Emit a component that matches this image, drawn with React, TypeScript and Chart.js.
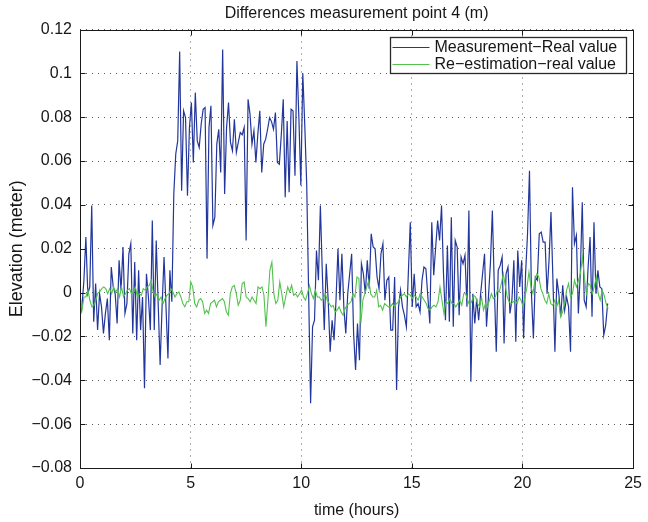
import React, { useEffect, useRef } from 'react';
import { Chart, registerables } from 'chart.js';

Chart.register(...registerables);

const chartTitle = 'Differences measurement point 4 (m)';
const xAxisTitle = 'time (hours)';
const yAxisTitle = 'Elevation (meter)';
const seriesLabels = ['Measurement\u2212Real value', 'Re\u2212estimation\u2212real value'];
const seriesColors = ['#22369c', '#52c24c'];
const xTicks = [0, 5, 10, 15, 20, 25];
const yTicks = [-0.08, -0.06, -0.04, -0.02, 0, 0.02, 0.04, 0.06, 0.08, 0.1, 0.12];
const measurementEndHour = 23.85;
const reestimationEndHour = 23.87;

const measurementMinusReal = [
  -0.011, -0.0065, 0.0056, 0.0253, -0.0005, 0.0026, 0.0397, -0.0133, 0.0041, -0.0171,
  -0.0005, -0.0065, -0.0186, -0.0095, -0.0027, -0.0217, 0.0117, 0.0026, -0.0005, -0.0141,
  0.0147, 0.0011, 0.0208, -0.0095, -0.005, 0.0177, 0.0223, -0.0186, 0.0139, -0.0217,
  0.0102, -0.0171, -0.002, -0.0436, 0.0086, -0.002, -0.0171, 0.0329, -0.0171, 0.0238,
  -0.005, -0.033, -0.0065, 0.0162, -0.0065, -0.03, 0.0102, -0.0042, 0.045, 0.0632,
  0.0692, 0.11, 0.0465, 0.0829, 0.0798, 0.0442,
  0.0753, 0.0867, 0.0594, 0.0912, 0.0692, 0.0662, 0.0768, 0.0836, 0.0844, 0.0155,
  0.0753, 0.0852, 0.0306, 0.0344, 0.0677, 0.0745, 0.0548, 0.1109, 0.045, 0.0753,
  0.0867, 0.0685, 0.0647, 0.0791, 0.0639, 0.0685, 0.073, 0.072, 0.0753, 0.0238,
  0.0882, 0.0814, 0.0677, 0.0738, 0.0594, 0.0723, 0.0829, 0.0548, 0.0677, 0.07,
  0.0745, 0.0798, 0.078, 0.0745, 0.0821, 0.0594, 0.0586, 0.072, 0.0882, 0.0435,
  0.0783, 0.0458, 0.0836, 0.0829,
  0.0533, 0.1056, 0.0798, 0.0488, 0.1, 0.0768, 0.0495, -0.0005, -0.0505, -0.0156,
  -0.0126, 0.0192, 0.0056, 0.0397, 0.0086, -0.0171, 0.0132, -0.0035, -0.027, -0.0126,
  -0.0217, -0.0035, 0.02, -0.0035, 0.0177, -0.0065, -0.0186, -0.0005, 0.0086, 0.0177,
  -0.0186, -0.0353, -0.0141, -0.0308, 0.0132, 0.0086, -0.0005, 0.0147, 0.0018, 0.0268,
  0.0208, 0.02, 0.0071, 0.0018, 0.0177, 0.0223, -0.0035, 0.0056, 0.0071, -0.0171,
  -0.0171, 0.0071, -0.0444, -0.0065,
  0.0011, -0.0065, -0.0103, -0.0156, 0.0086, 0.0321, -0.0065, 0.0086, -0.0065, -0.005,
  -0.0088, 0.0056, 0.0117, 0.0109, -0.002, -0.0141, 0.0321, 0.0079, 0.0208, 0.0329,
  0.0238, 0.0397, 0.0086, -0.0126, 0.0215, -0.0133, 0.0344, -0.0156, 0.0238, 0.0208,
  -0.0103, 0.0162, 0.0132, 0.017, -0.0065, 0.0374, -0.0406, -0.0005, -0.0141, -0.0027,
  -0.0126, -0.0005, 0.0086, 0.0177, -0.0156, -0.002, 0.0132, 0.0374, 0.0026, -0.027,
  0.0102, 0.0124, 0.0162, -0.0232, 0.0086,
  0.0117, -0.0095, -0.0035, 0.0147, -0.0224, 0.0192, 0.0026, 0.0147, -0.0209, 0.0086,
  0.0268, 0.0556, -0.0005, -0.0209, 0.0071, 0.0056, 0.0268, 0.0276, 0.023, 0.023,
  -0.0005, 0.0147, 0.0367, 0.0056, -0.027, 0.0064, -0.0005, -0.011, 0.0033, -0.008,
  -0.002, -0.0065, -0.027, 0.048, 0.0223, 0.0261, -0.0095, 0.0086, 0.0412, -0.0035,
  -0.0065, 0.0117, 0.0253, -0.011, 0.0321, -0.0005, 0.0102, 0.0026, 0.0018, -0.0194,
  -0.0148, -0.005,
];

const reestimationMinusReal = [
  -0.0005, -0.008, -0.002, -0.002, 0.0011, -0.0035, -0.0065, -0.0058, -0.0035, -0.0002,
  0.0003, 0.0018, 0.0026, 0.0018, -0.0005, 0.0018, -0.0005, 0.0026, 0.0003, 0.0018,
  -0.002, 0.0026, -0.002, -0.0005, 0.0011, 0.0018, -0.0005, 0.0003, 0.0026, -0.002,
  -0.0005, -0.0012, 0.0018, 0.0011, 0.0026, 0.0033, 0.0056, 0.0003, -0.002, -0.0005,
  -0.0035, -0.002, -0.005, -0.0027, -0.0012, -0.0005, 0.0018, 0.0003, -0.002, -0.0005,
  0.0003, -0.002, -0.005, -0.0065,
  -0.0042, -0.0042, 0.0048, 0.0026, -0.005, -0.0065, -0.0035, -0.0027, -0.0042, -0.0095,
  -0.008, -0.0095, -0.005, -0.0042, -0.0035, -0.0065, -0.0042, -0.0035, -0.0027, -0.0042,
  -0.0088, -0.0103, -0.0005, 0.0026, 0.0033, -0.0005, -0.0058, -0.0035, 0.0041, 0.0048,
  -0.002, -0.0027, -0.0042, -0.002, -0.0035, -0.005, 0.0026, 0.0018, 0.0026, -0.0012,
  -0.0156, -0.0035, 0.0102, 0.0139, -0.0005, -0.005, -0.0035, 0.0048, -0.0005, -0.0065,
  -0.002, 0.0026, 0.0003, 0.0033,
  -0.0012, -0.0005, -0.002, -0.0005, 0.0011, -0.002, -0.0035, -0.0005, 0.0033, -0.0005,
  -0.0027, 0.0011, -0.002, -0.002, -0.0035, -0.0027, -0.0005, -0.0035, -0.005, -0.0065,
  -0.0058, -0.0088, -0.008, -0.0065, -0.0088, -0.0103, -0.0073, -0.0058, -0.005, -0.0042,
  -0.0005, -0.002, 0.0071, 0.0064, -0.0141, -0.0035, -0.0005, 0.0026, 0.0056, -0.0005,
  -0.002, -0.002, 0.0011, -0.0065, -0.0058, -0.008, -0.005, -0.0058, -0.0065, -0.0065,
  -0.005, -0.0065, -0.005, -0.0042,
  -0.002, -0.0012, -0.0005, -0.002, -0.0005, -0.0012, -0.0027, -0.0012, -0.002, -0.0035,
  -0.0005, -0.002, -0.0035, -0.005, -0.0073, -0.008, -0.0065, -0.0058, -0.0065, -0.0042,
  0.0026, -0.0035, -0.0095, -0.0042, -0.005, -0.0027, -0.005, -0.005, -0.0065, -0.005,
  -0.0035, -0.0058, -0.0005, -0.0005, -0.0035, -0.0058, -0.0042, -0.0012, -0.002, -0.005,
  -0.0065, -0.002, -0.008, -0.005, -0.0065, -0.0035, -0.0005, -0.0027, -0.002, 0.0011,
  0.0003, 0.0041, 0.0086, 0.0033,
  -0.002, -0.0042, -0.005, -0.0042, -0.0035, -0.005, -0.002, -0.0035, -0.0065, -0.002,
  0.0026, 0.0094, 0.0026, -0.0005, 0.0056, 0.0086, 0.0071, 0.0018, -0.0005, -0.0035,
  -0.005, -0.0005, -0.005, -0.0058, -0.0035, -0.0065, -0.0035, -0.0111, -0.0088, -0.005,
  0.0011, 0.0041, -0.002, -0.0005, 0.0056, 0.0026, 0.0056, 0.0086, 0.0162, 0.0071,
  -0.0005, 0.0041, 0.0033, -0.0005, 0.0026, 0.0071, -0.0005, -0.0035, 0.0011, -0.0012,
  -0.005, -0.0073,
];

const FONT = '"Liberation Sans", Arial, Helvetica, sans-serif';
const TEXT_COLOR = '#161616';

function toPoints(values: number[], endHour: number) {
  const n = values.length;
  return values.map((v, i) => ({ x: (i * endHour) / (n - 1), y: v }));
}

function fmtTick(v: number) {
  const s = parseFloat(v.toFixed(2)).toString();
  return s.replace('-', '\u2212');
}

const matlabFrame = {
  id: 'matlabFrame',
  afterDraw(chart: any) {
    const { ctx, chartArea: a, scales } = chart;
    const L = Math.round(a.left) + 0.5;
    const R = Math.round(a.right) + 0.5;
    const T = Math.round(a.top) + 0.5;
    const B = Math.round(a.bottom) + 0.5;
    ctx.save();
    ctx.setLineDash([]);
    ctx.strokeStyle = '#1a1a1a';
    ctx.lineWidth = 1;
    ctx.strokeRect(L, T, R - L, B - T);
    const tl = 5;
    ctx.beginPath();
    scales.x.ticks.forEach((t: any) => {
      const px = Math.round(scales.x.getPixelForValue(t.value)) + 0.5;
      ctx.moveTo(px, B);
      ctx.lineTo(px, B - tl);
      ctx.moveTo(px, T);
      ctx.lineTo(px, T + tl);
    });
    scales.y.ticks.forEach((t: any) => {
      const py = Math.round(scales.y.getPixelForValue(t.value)) + 0.5;
      ctx.moveTo(L, py);
      ctx.lineTo(L + tl, py);
      ctx.moveTo(R, py);
      ctx.lineTo(R - tl, py);
    });
    ctx.stroke();

    // legend box
    const bw = 236;
    const bh = 36;
    const bx = Math.round(a.right) - 7 - bw + 0.5;
    const by = Math.round(a.top) + 7 + 0.5;
    ctx.fillStyle = '#ffffff';
    ctx.fillRect(bx, by, bw, bh);
    ctx.strokeStyle = '#2a2a2a';
    ctx.lineWidth = 1.3;
    ctx.strokeRect(bx, by, bw, bh);
    ctx.font = `16px ${FONT}`;
    ctx.textBaseline = 'middle';
    ctx.textAlign = 'left';
    chart.data.datasets.forEach((ds: any, i: number) => {
      const ry = Math.round(by + 9.5 + i * 17) + 0.5;
      ctx.strokeStyle = ds.borderColor;
      ctx.lineWidth = 1;
      ctx.beginPath();
      ctx.moveTo(bx + 2, ry);
      ctx.lineTo(bx + 39, ry);
      ctx.stroke();
      ctx.fillStyle = TEXT_COLOR;
      ctx.fillText(ds.label, bx + 44, ry + 0.5);
    });
    ctx.restore();
  },
};

export default function App() {
  const ref = useRef<HTMLCanvasElement | null>(null);

  useEffect(() => {
    document.body.style.margin = '0';
    const canvas = ref.current;
    if (!canvas) return;
    Chart.defaults.font.family = FONT;
    Chart.defaults.color = TEXT_COLOR;

    const chart = new Chart(canvas, {
      type: 'line',
      data: {
        datasets: [
          {
            label: seriesLabels[0],
            data: toPoints(measurementMinusReal, measurementEndHour),
            borderColor: seriesColors[0],
            backgroundColor: seriesColors[0],
            borderWidth: 1.2,
            pointRadius: 0,
            tension: 0,
            order: 1,
          },
          {
            label: seriesLabels[1],
            data: toPoints(reestimationMinusReal, reestimationEndHour),
            borderColor: seriesColors[1],
            backgroundColor: seriesColors[1],
            borderWidth: 1.1,
            pointRadius: 0,
            tension: 0,
            order: 0,
          },
        ],
      },
      options: {
        responsive: false,
        devicePixelRatio: 1,
        animation: false,
        layout: { padding: { left: 0, right: 11, top: 0, bottom: 0 } },
        plugins: {
          legend: { display: false },
          tooltip: { enabled: false },
          title: {
            display: true,
            text: chartTitle,
            fullSize: false,
            color: TEXT_COLOR,
            font: { size: 16, weight: 'normal', family: FONT },
            padding: { top: 4, bottom: 6.3 },
          },
        },
        scales: {
          x: {
            type: 'linear',
            min: 0,
            max: 25,
            afterBuildTicks: (s: any) => {
              s.ticks = xTicks.map((v) => ({ value: v }));
            },
            afterFit: (s: any) => {
              s.height = 54;
            },
            ticks: {
              padding: 6,
              font: { size: 16, family: FONT },
              color: TEXT_COLOR,
              maxRotation: 0,
              callback: (v: any) => fmtTick(Number(v)),
            },
            grid: { color: 'rgba(40,40,40,0.75)', lineWidth: 1, drawTicks: false },
            border: { display: false, dash: [1, 5] },
            title: {
              display: true,
              text: xAxisTitle,
              color: TEXT_COLOR,
              font: { size: 16, family: FONT },
              padding: { top: 0, bottom: 1.4 },
            },
          },
          y: {
            type: 'linear',
            min: -0.08,
            max: 0.12,
            afterBuildTicks: (s: any) => {
              s.ticks = yTicks.map((v) => ({ value: v }));
            },
            afterFit: (s: any) => {
              s.width = 80;
            },
            ticks: {
              padding: 8,
              font: { size: 16, family: FONT },
              color: TEXT_COLOR,
              callback: (v: any) => fmtTick(Number(v)),
            },
            grid: { color: 'rgba(40,40,40,0.75)', lineWidth: 1, drawTicks: false },
            border: { display: false, dash: [1, 5] },
            title: {
              display: true,
              text: yAxisTitle,
              color: TEXT_COLOR,
              font: { size: 18, family: FONT },
              padding: { top: 6.5, bottom: 0 },
            },
          },
        },
      },
      plugins: [matlabFrame],
    } as any);

    return () => {
      chart.destroy();
    };
  }, []);

  return (
    <div style={{ width: 648, height: 522 }}>
      <canvas ref={ref} width={648} height={522} style={{ display: 'block', width: 648, height: 522 }} />
    </div>
  );
}
